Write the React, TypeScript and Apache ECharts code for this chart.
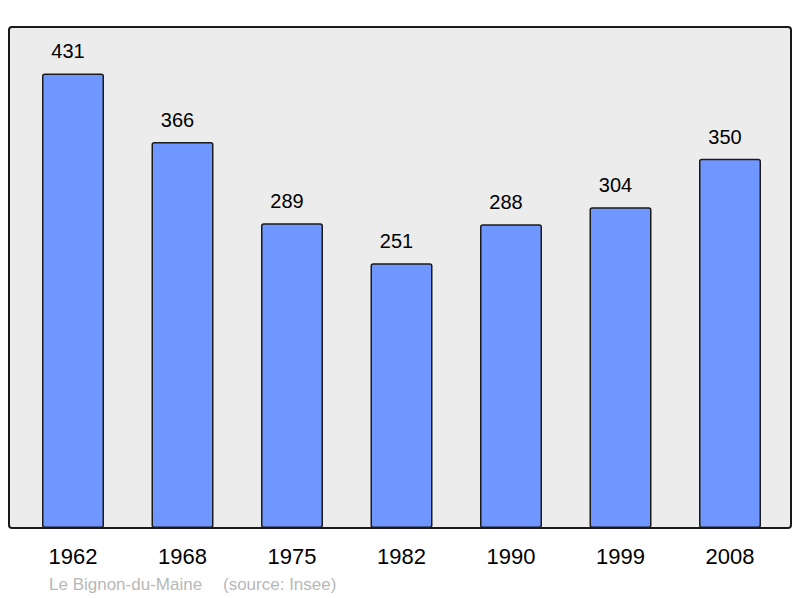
import React, { useEffect, useRef } from "react";
import * as echarts from "echarts";

const years = ["1962", "1968", "1975", "1982", "1990", "1999", "2008"];
const population = [431, 366, 289, 251, 288, 304, 350];
const placeName = "Le Bignon-du-Maine";
const sourceText = "(source: Insee)";

export default function App() {
  const ref = useRef<HTMLDivElement>(null);
  useEffect(() => {
    if (!ref.current) return;
    const chart = echarts.init(ref.current, undefined, { renderer: "svg" });
    const font = "'Liberation Sans', Arial, sans-serif";
    chart.setOption({
      animation: false,
      backgroundColor: "#ffffff",
      grid: { left: 18.25, right: 15.25, top: 27, bottom: 70, containLabel: false },
      xAxis: {
        type: "category",
        data: years,
        axisLine: { show: false },
        axisTick: { show: false },
        axisLabel: { color: "#000", fontSize: 22, fontFamily: font, margin: 17 },
      },
      yAxis: {
        type: "value",
        min: 0,
        max: 475,
        show: false,
        splitLine: { show: false },
      },
      graphic: [
        {
          type: "rect",
          z: -10,
          shape: { x: 9, y: 27, width: 782, height: 501, r: 3 },
          style: { fill: "#ececec", stroke: "none" },
        },
        {
          type: "rect",
          z: 100,
          shape: { x: 9, y: 27, width: 782, height: 501, r: 3 },
          style: { fill: "none", stroke: "#1a1a1a", lineWidth: 2 },
        },
        {
          type: "text",
          x: 49,
          y: 584,
          style: { text: placeName, fill: "#b8b8b8", font: `17px ${font}`, verticalAlign: "middle" },
        },
        {
          type: "text",
          x: 223,
          y: 584,
          style: { text: sourceText, fill: "#b8b8b8", font: `17px ${font}`, verticalAlign: "middle" },
        },
      ],
      series: [
        {
          type: "bar",
          data: population,
          barWidth: 62,
          itemStyle: {
            color: "#7096ff",
            borderColor: "#1a1a1a",
            borderWidth: 1.5,
            borderRadius: 2,
          },
          label: {
            show: true,
            position: "top",
            distance: 12,
            offset: [-5, 0],
            color: "#000",
            fontSize: 20,
            fontFamily: font,
          },
        },
      ],
    });
    return () => chart.dispose();
  }, []);
  return <div ref={ref} style={{ width: 800, height: 598, position: "absolute", left: 0, top: 0 }} />;
}
